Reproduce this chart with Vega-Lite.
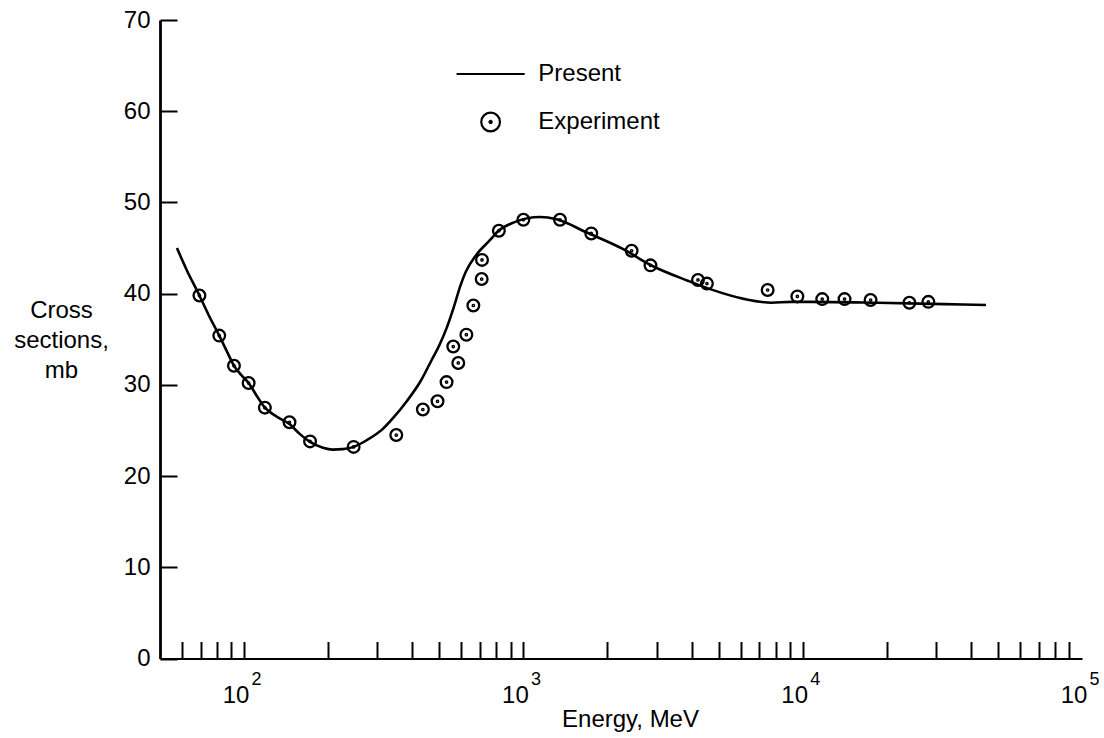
{
  "$schema": "https://vega.github.io/schema/vega-lite/v6.json",
  "width": 922,
  "height": 638.5,
  "autosize": {"type": "none"},
  "padding": {"left": 160, "top": 20, "right": 22, "bottom": 79.5},
  "background": "white",
  "config": {
    "view": {"stroke": null},
    "font": "Liberation Sans",
    "axis": {"grid": false, "domainColor": "black", "tickColor": "black", "labelColor": "black", "titleColor": "black"}
  },
  "layer": [
    {
      "data": {"values": [
        {"E": 57.5, "mb": 45.0}, {"E": 62.3, "mb": 42.6}, {"E": 69.2, "mb": 39.8}, {"E": 74.8, "mb": 37.6},
        {"E": 81.5, "mb": 35.4}, {"E": 86.7, "mb": 33.7}, {"E": 92, "mb": 32.1}, {"E": 97.6, "mb": 31.1},
        {"E": 103.8, "mb": 30.2}, {"E": 111.5, "mb": 28.7}, {"E": 118.7, "mb": 27.5}, {"E": 131.1, "mb": 26.5},
        {"E": 145.4, "mb": 25.7}, {"E": 158.5, "mb": 24.6}, {"E": 172.3, "mb": 23.75}, {"E": 191.7, "mb": 23.1},
        {"E": 207.9, "mb": 22.9}, {"E": 225.7, "mb": 22.95}, {"E": 246.6, "mb": 23.2}, {"E": 273.8, "mb": 23.9},
        {"E": 314.7, "mb": 25.2}, {"E": 342.4, "mb": 26.4}, {"E": 383, "mb": 28.24}, {"E": 428.8, "mb": 30.42},
        {"E": 467, "mb": 32.59}, {"E": 501, "mb": 34.4}, {"E": 531, "mb": 36.22}, {"E": 562, "mb": 38.41},
        {"E": 596, "mb": 40.94}, {"E": 622, "mb": 42.39}, {"E": 677, "mb": 44.22}, {"E": 757, "mb": 45.83},
        {"E": 817, "mb": 46.92}, {"E": 921, "mb": 47.79}, {"E": 1148, "mb": 48.4}, {"E": 1315, "mb": 48.15},
        {"E": 1679, "mb": 46.73}, {"E": 2297, "mb": 44.82}, {"E": 2851, "mb": 43.14}, {"E": 3900, "mb": 41.39},
        {"E": 4722, "mb": 40.44}, {"E": 6210, "mb": 39.4}, {"E": 7740, "mb": 39.0}, {"E": 9100, "mb": 39.1},
        {"E": 10740, "mb": 39.1}, {"E": 18580, "mb": 39.0}, {"E": 32130, "mb": 38.85}, {"E": 45300, "mb": 38.75}
      ]},
      "mark": {"type": "line", "color": "black", "strokeWidth": 2.6, "interpolate": "monotone"},
      "encoding": {
        "x": {
          "field": "E", "type": "quantitative",
          "scale": {"type": "log", "domain": [50, 100000], "nice": false},
          "axis": {
            "values": [60, 70, 80, 90, 100, 200, 300, 400, 500, 600, 700, 800, 900, 1000, 2000, 3000, 4000, 5000, 6000, 7000, 8000, 9000, 10000, 20000, 30000, 40000, 50000, 60000, 70000, 80000, 90000, 100000],
            "labelExpr": "(datum.value === 100 || datum.value === 1000 || datum.value === 10000 || datum.value === 100000) ? '10' : ''",
            "title": "Energy, MeV",
            "titleFontSize": 24, "titleFontWeight": "normal",
            "titleX": 470, "titleY": 68, "titleBaseline": "alphabetic",
            "labelFontSize": 24, "labelBaseline": "alphabetic", "labelPadding": 60.5,
            "labelOffset": -8.5, "labelFlush": false, "labelOverlap": false, "labelBound": false,
            "tickSize": -17, "tickWidth": 2, "domainWidth": 2.2,
            "tickColor": {"condition": {"test": "datum.value >= 100000", "value": "transparent"}, "value": "black"}
          }
        },
        "y": {
          "field": "mb", "type": "quantitative",
          "scale": {"domain": [0, 70], "nice": false},
          "axis": {
            "values": [0, 10, 20, 30, 40, 50, 60, 70],
            "title": ["Cross", "sections,", "mb"],
            "titleAngle": 0, "titleX": -99, "titleY": 290, "titleAlign": "center", "titleBaseline": "middle",
            "titleLineHeight": 30, "titleFontSize": 24, "titleFontWeight": "normal",
            "labelFontSize": 24, "labelPadding": 27, "labelBaseline": "middle", "labelFlush": false,
            "tickSize": -17, "tickWidth": 2, "domainWidth": 2.8
          }
        }
      }
    },
    {
      "data": {"values": [
        {"E": 69.2, "mb": 39.8, "series": "Experiment"}, {"E": 81.5, "mb": 35.4, "series": "Experiment"},
        {"E": 92, "mb": 32.1, "series": "Experiment"}, {"E": 103.8, "mb": 30.2, "series": "Experiment"},
        {"E": 118.7, "mb": 27.5, "series": "Experiment"}, {"E": 145.4, "mb": 25.9, "series": "Experiment"},
        {"E": 172.3, "mb": 23.8, "series": "Experiment"}, {"E": 246.7, "mb": 23.2, "series": "Experiment"},
        {"E": 350.7, "mb": 24.5, "series": "Experiment"}, {"E": 436.6, "mb": 27.3, "series": "Experiment"},
        {"E": 492.7, "mb": 28.2, "series": "Experiment"}, {"E": 530.8, "mb": 30.3, "series": "Experiment"},
        {"E": 584.6, "mb": 32.4, "series": "Experiment"}, {"E": 561, "mb": 34.2, "series": "Experiment"},
        {"E": 625, "mb": 35.5, "series": "Experiment"}, {"E": 662, "mb": 38.7, "series": "Experiment"},
        {"E": 709, "mb": 41.6, "series": "Experiment"}, {"E": 711, "mb": 43.7, "series": "Experiment"},
        {"E": 817, "mb": 46.9, "series": "Experiment"}, {"E": 1000, "mb": 48.1, "series": "Experiment"},
        {"E": 1352, "mb": 48.1, "series": "Experiment"}, {"E": 1750, "mb": 46.6, "series": "Experiment"},
        {"E": 2441, "mb": 44.7, "series": "Experiment"}, {"E": 2851, "mb": 43.1, "series": "Experiment"},
        {"E": 4217, "mb": 41.5, "series": "Experiment"}, {"E": 4540, "mb": 41.1, "series": "Experiment"},
        {"E": 7490, "mb": 40.4, "series": "Experiment"}, {"E": 9570, "mb": 39.7, "series": "Experiment"},
        {"E": 11750, "mb": 39.4, "series": "Experiment"}, {"E": 14120, "mb": 39.4, "series": "Experiment"},
        {"E": 17500, "mb": 39.3, "series": "Experiment"}, {"E": 24100, "mb": 39.0, "series": "Experiment"},
        {"E": 28180, "mb": 39.1, "series": "Experiment"}
      ]},
      "mark": {"type": "point", "filled": false, "color": "black", "strokeWidth": 2.3, "size": 137, "opacity": 1},
      "encoding": {
        "x": {"field": "E", "type": "quantitative"},
        "y": {"field": "mb", "type": "quantitative"},
        "shape": {
          "field": "series", "type": "nominal",
          "scale": {"domain": ["Present", "Experiment"], "range": ["M-3.64,0L3.64,0", "M-1,0A1,1,0,1,1,1,0A1,1,0,1,1,-1,0ZM-0.12,0A0.12,0.12,0,1,1,0.12,0A0.12,0.12,0,1,1,-0.12,0Z"]},
          "legend": {
            "orient": "none", "legendX": 318.6, "legendY": 42, "title": null,
            "labelFontSize": 24, "labelColor": "black", "labelOffset": 35.7,
            "symbolSize": 350, "rowPadding": 22, "padding": 0,
            "symbolStrokeColor": "black", "symbolFillColor": "transparent", "symbolStrokeWidth": 2.2
          }
        }
      }
    },
    {
      "data": {"values": [
        {"E": 100, "p": "2"}, {"E": 1000, "p": "3"}, {"E": 10000, "p": "4"}, {"E": 100000, "p": "5"}
      ]},
      "mark": {"type": "text", "fontSize": 18, "dx": 12.5, "dy": 26, "baseline": "alphabetic", "align": "center", "color": "black", "font": "Liberation Sans"},
      "encoding": {
        "x": {"field": "E", "type": "quantitative"},
        "y": {"datum": 0},
        "text": {"field": "p"}
      }
    }
  ]
}
